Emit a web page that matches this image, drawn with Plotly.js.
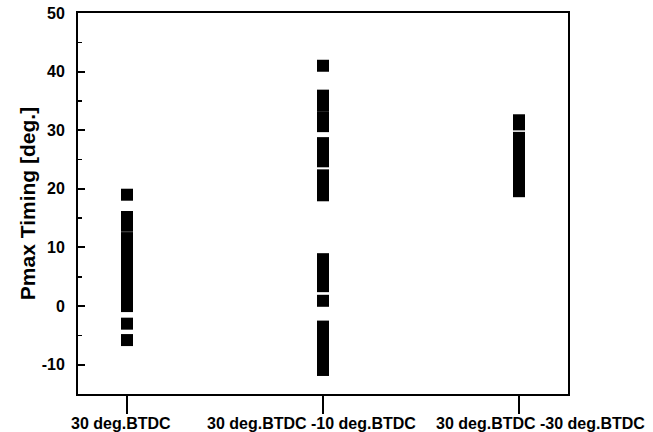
<!DOCTYPE html>
<html>
<head>
<meta charset="utf-8">
<script src="https://cdn.plot.ly/plotly-3.0.1.min.js"></script>
<style>html,body{margin:0;padding:0;background:#fff;}#chart{width:653px;height:432px;}</style>
</head>
<body>
<div id="chart"></div>
<script>
const categories = ["30 deg.BTDC", "30 deg.BTDC -10 deg.BTDC", "30 deg.BTDC -30 deg.BTDC"];
const timing_30 = [19, 15.2, 14.5, 13.7, 11.6, 11, 10, 9, 8, 7, 6, 5, 4, 3, 2, 1, 0, -3, -5.8];
const timing_30_m10 = [41, 35.9, 35, 34.2, 32.2, 31.5, 30.7, 27.8, 27, 26, 25.3, 24.7, 22.3, 21.5, 20.5, 19.7, 18.9, 8, 7, 6, 5, 4, 3.4, 0.9, -3.5, -4.5, -5.5, -6.5, -7.5, -8.5, -9.5, -10.2, -10.9];
const timing_30_m30 = [31.7, 31, 28.7, 28, 27, 26, 25, 24, 23, 22, 21, 20.3, 19.6];
const yTicks = [-10, 0, 10, 20, 30, 40, 50];
const yTickText = ["-10", "0", "10", "20", "30", "40", "50"];

const groups = [timing_30, timing_30_m10, timing_30_m30];
const xs = [], ys = [];
groups.forEach((g, i) => g.forEach(v => { xs.push(categories[i]); ys.push(v); }));

const fontFam = '"Liberation Sans", Arial, sans-serif';
const labelShift = [-6, -12, 21];
const annotations = categories.map((c, i) => ({
  x: c, xref: 'x', y: 0, yref: 'paper', yanchor: 'middle', xanchor: 'center',
  yshift: -29, xshift: labelShift[i], showarrow: false, text: c,
  font: {family: fontFam, size: 16, weight: 'bold', color: '#000'}
}));

const trace = {
  type: 'scatter', mode: 'markers', x: xs, y: ys,
  marker: {symbol: 'square', size: 12, color: '#000', line: {width: 0}},
  hoverinfo: 'x+y', showlegend: false
};
const layout = {
  width: 653, height: 432,
  margin: {l: 78, r: 85, t: 13, b: 38},
  paper_bgcolor: '#fff', plot_bgcolor: '#fff',
  font: {family: fontFam, color: '#000'},
  annotations: annotations,
  xaxis: {
    type: 'category', categoryorder: 'array', categoryarray: categories,
    range: [-0.25, 2.25], showgrid: false, zeroline: false,
    showline: true, linecolor: '#000', linewidth: 2, mirror: true,
    ticks: 'outside', ticklen: 18, tickwidth: 2, tickcolor: '#000',
    showticklabels: false
  },
  yaxis: {
    range: [-15, 50], tickvals: yTicks, ticktext: yTickText, showgrid: false, zeroline: false,
    showline: true, linecolor: '#000', linewidth: 2, mirror: true,
    ticks: 'inside', ticklen: 7, tickwidth: 2, tickcolor: '#000',
    minor: {dtick: 5, ticks: 'inside', ticklen: 4, tickwidth: 1.5, tickcolor: '#000', showgrid: false},
    ticklabelstandoff: 8,
    tickfont: {family: fontFam, size: 16, weight: 'bold', color: '#000'},
    title: {text: 'Pmax Timing [deg.]', font: {family: fontFam, size: 21, weight: 'bold', color: '#000'}, standoff: 0}
  }
};
Plotly.newPlot('chart', [trace], layout, {displayModeBar: false, staticPlot: true});
</script>
</body>
</html>
